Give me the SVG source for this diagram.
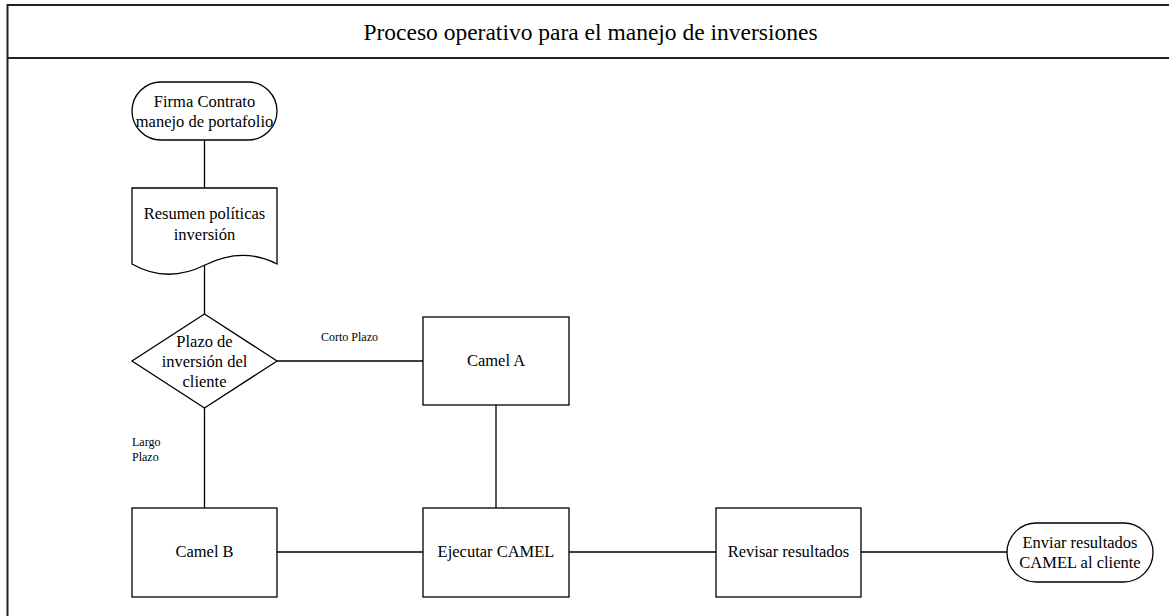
<svg xmlns="http://www.w3.org/2000/svg" width="1169" height="616" viewBox="0 0 1169 616">
<style>
.s{fill:#fff;stroke:#000;stroke-width:1.3}
.c{fill:none;stroke:#000;stroke-width:1.3}
.t{font-family:'Liberation Serif','Times New Roman',Times,serif;font-size:16.5px;fill:#000;text-anchor:middle}
.l{font-family:'Liberation Serif','Times New Roman',Times,serif;font-size:12px;fill:#000}
.h{font-family:'Liberation Serif','Times New Roman',Times,serif;font-size:23.5px;fill:#000;text-anchor:middle}
.f{fill:none;stroke:#222;stroke-width:2}
</style>
<rect width="1169" height="616" fill="#fff"/>
<g id="frame">
<rect class="f" x="7.5" y="5" width="1170" height="620"/>
<line class="f" x1="7.5" y1="58" x2="1169" y2="58"/>
<text class="h" x="590.5" y="40">Proceso operativo para el manejo de inversiones</text>
</g>
<g id="connectors">
<line class="c" x1="204.5" y1="140" x2="204.5" y2="188"/>
<line class="c" x1="204.5" y1="265" x2="204.5" y2="314"/>
<line class="c" x1="277" y1="361" x2="423" y2="361"/>
<line class="c" x1="204.5" y1="408" x2="204.5" y2="508"/>
<line class="c" x1="496" y1="405" x2="496" y2="508"/>
<line class="c" x1="277" y1="552" x2="423" y2="552"/>
<line class="c" x1="569" y1="552" x2="716" y2="552"/>
<line class="c" x1="861" y1="552" x2="1007" y2="552"/>
<text class="l" x="321" y="341">Corto Plazo</text>
<text class="l" x="132" y="446">Largo</text>
<text class="l" x="132" y="461">Plazo</text>
</g>
<g id="firma">
<rect class="s" x="132" y="82" width="145" height="58" rx="29" ry="29"/>
<text class="t" x="204.5" y="107">Firma Contrato</text>
<text class="t" x="204.5" y="127">manejo de portafolio</text>
</g>
<g id="resumen">
<path class="s" d="M132,188 L277,188 L277,264 C250,250 225,255 205,265 C185,275 160,280 132,264 Z"/>
<text class="t" x="204.5" y="219">Resumen políticas</text>
<text class="t" x="204.5" y="240">inversión</text>
</g>
<g id="plazo">
<polygon class="s" points="204.5,314 277,361 204.5,408 132,361"/>
<text class="t" x="204.5" y="347">Plazo de</text>
<text class="t" x="204.5" y="367">inversión del</text>
<text class="t" x="204.5" y="387">cliente</text>
</g>
<g id="camelA">
<rect class="s" x="423" y="317" width="146" height="88"/>
<text class="t" x="496" y="366">Camel A</text>
</g>
<g id="camelB">
<rect class="s" x="132" y="508" width="145" height="89"/>
<text class="t" x="204.5" y="557">Camel B</text>
</g>
<g id="ejecutar">
<rect class="s" x="423" y="508" width="146" height="89"/>
<text class="t" x="496" y="557">Ejecutar CAMEL</text>
</g>
<g id="revisar">
<rect class="s" x="716" y="508" width="145" height="89"/>
<text class="t" x="788.5" y="557">Revisar resultados</text>
</g>
<g id="enviar">
<rect class="s" x="1007" y="523" width="146" height="59" rx="29.5" ry="29.5"/>
<text class="t" x="1080" y="548">Enviar resultados</text>
<text class="t" x="1080" y="568">CAMEL al cliente</text>
</g>
</svg>
